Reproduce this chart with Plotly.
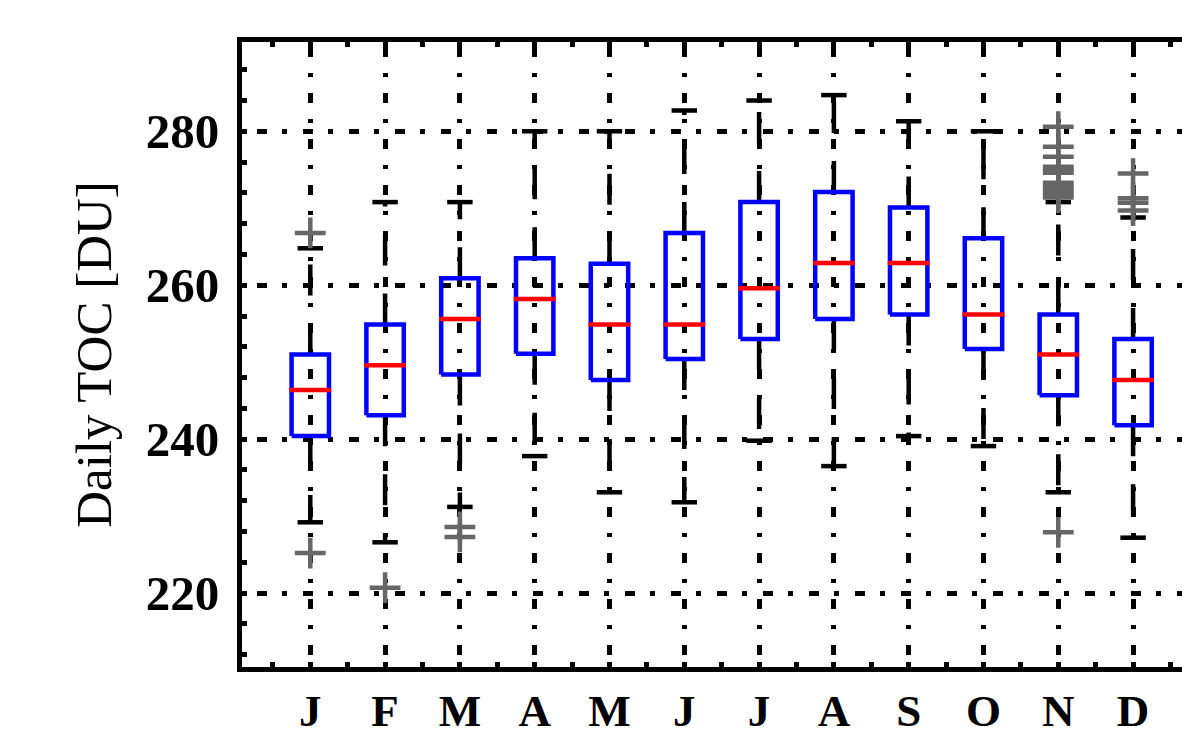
import plotly.graph_objects as go

# Monthly statistics of daily total ozone column (DU)
months = ["J", "F", "M", "A", "M", "J", "J", "A", "S", "O", "N", "D"]
q1 = [240.4, 243.1, 248.4, 251.1, 247.7, 250.4, 253.0, 255.6, 256.2, 251.7, 245.7, 241.8]
median = [246.4, 249.6, 255.6, 258.2, 254.9, 254.9, 259.6, 262.9, 262.9, 256.2, 251.0, 247.7]
q3 = [251.0, 254.9, 260.9, 263.5, 262.8, 266.8, 270.8, 272.1, 270.1, 266.1, 256.2, 253.0]
whisker_low = [229.2, 226.6, 231.2, 237.8, 233.1, 231.8, 239.8, 236.5, 240.4, 239.1, 233.1, 227.2]
whisker_high = [264.8, 270.8, 270.8, 280.0, 280.0, 282.7, 284.0, 284.7, 281.3, 280.0, 270.8, 268.8]
outliers = [
    [266.8, 225.2],
    [220.7],
    [228.6, 227.3],
    [], [], [], [], [], [], [],
    [280.6, 278.0, 276.7, 275.4, 275.0, 274.6, 273.3, 272.9, 272.5, 272.1, 271.7, 271.4, 227.9],
    [274.5, 271.3, 270.7, 269.7],
]

pos = list(range(1, len(months) + 1))
BOX_HW = 0.25
MED_HW = 0.28
CAP_HW = 0.17
LW = 4.5
FONT = "Liberation Serif"

# whiskers: each segment starts at the box edge and runs outwards
wx, wy = [], []
for p, a, b, lo, hi in zip(pos, q1, q3, whisker_low, whisker_high):
    wx += [p, p, None, p, p, None]
    wy += [b, hi, None, a, lo, None]

# whisker caps
cx, cy = [], []
for p, lo, hi in zip(pos, whisker_low, whisker_high):
    cx += [p - CAP_HW, p + CAP_HW, None, p - CAP_HW, p + CAP_HW, None]
    cy += [hi, hi, None, lo, lo, None]

# boxes
bx, by = [], []
for p, a, b in zip(pos, q1, q3):
    bx += [p - BOX_HW, p + BOX_HW, p + BOX_HW, p - BOX_HW, p - BOX_HW, None]
    by += [a, a, b, b, a, None]

# medians
mx, my = [], []
for p, m in zip(pos, median):
    mx += [p - MED_HW, p + MED_HW, None]
    my += [m, m, None]

# outliers
ox, oy = [], []
for p, vals in zip(pos, outliers):
    for v in vals:
        ox.append(p)
        oy.append(v)

fig = go.Figure()
fig.add_trace(go.Scatter(x=wx, y=wy, mode="lines", hoverinfo="skip",
                         line=dict(color="black", width=LW, dash="31px,28px")))
fig.add_trace(go.Scatter(x=cx, y=cy, mode="lines", hoverinfo="skip",
                         line=dict(color="black", width=LW)))
fig.add_trace(go.Scatter(x=bx, y=by, mode="lines", hoverinfo="skip",
                         line=dict(color="#0000FF", width=LW)))
fig.add_trace(go.Scatter(x=mx, y=my, mode="lines", hoverinfo="skip",
                         line=dict(color="#FF0000", width=LW)))
fig.add_trace(go.Scatter(x=ox, y=oy, mode="markers", hoverinfo="skip",
                         marker=dict(symbol="cross-thin", size=22, color="#666666",
                                     line=dict(color="#666666", width=LW))))

fig.update_layout(
    width=1182, height=735,
    margin=dict(l=242, r=0, t=42, b=68),
    paper_bgcolor="white", plot_bgcolor="white",
    showlegend=False,
)

fig.update_xaxes(
    range=[0.087, 12.654],
    automargin=False,
    tickmode="array", tickvals=pos, ticktext=months,
    ticks="inside", ticklen=5, tickwidth=LW, tickcolor="black",
    minor=dict(tickmode="linear", tick0=0.5, dtick=1, ticks="inside",
               ticklen=5, tickwidth=LW, tickcolor="black", showgrid=False),
    showline=True, linewidth=5, linecolor="black", mirror="ticks",
    showgrid=True, gridcolor="black", gridwidth=LW,
    griddash="0px,5px,10px,16px,4px,11px",
    zeroline=False,
    tickfont=dict(family=FONT, size=45, color="black", weight="bold"),
    ticklabelstandoff=0,
)

fig.update_yaxes(
    range=[210.4, 291.6],
    automargin=False,
    tickmode="array", tickvals=[220, 240, 260, 280],
    ticks="inside", ticklen=5, tickwidth=LW, tickcolor="black",
    minor=dict(tickmode="linear", tick0=0, dtick=4, ticks="inside",
               ticklen=5, tickwidth=LW, tickcolor="black", showgrid=False),
    showline=True, linewidth=5, linecolor="black", mirror=False,
    showgrid=True, gridcolor="black", gridwidth=LW,
    griddash="0px,15px,10px,15px,5px,1px",
    zeroline=False,
    tickfont=dict(family=FONT, size=49, color="black", weight="bold"),
    ticklabelstandoff=8,
    title=dict(text="Daily TOC [DU]", font=dict(family=FONT, size=51, color="black"),
               standoff=19),
)

fig.write_html("out.html")
